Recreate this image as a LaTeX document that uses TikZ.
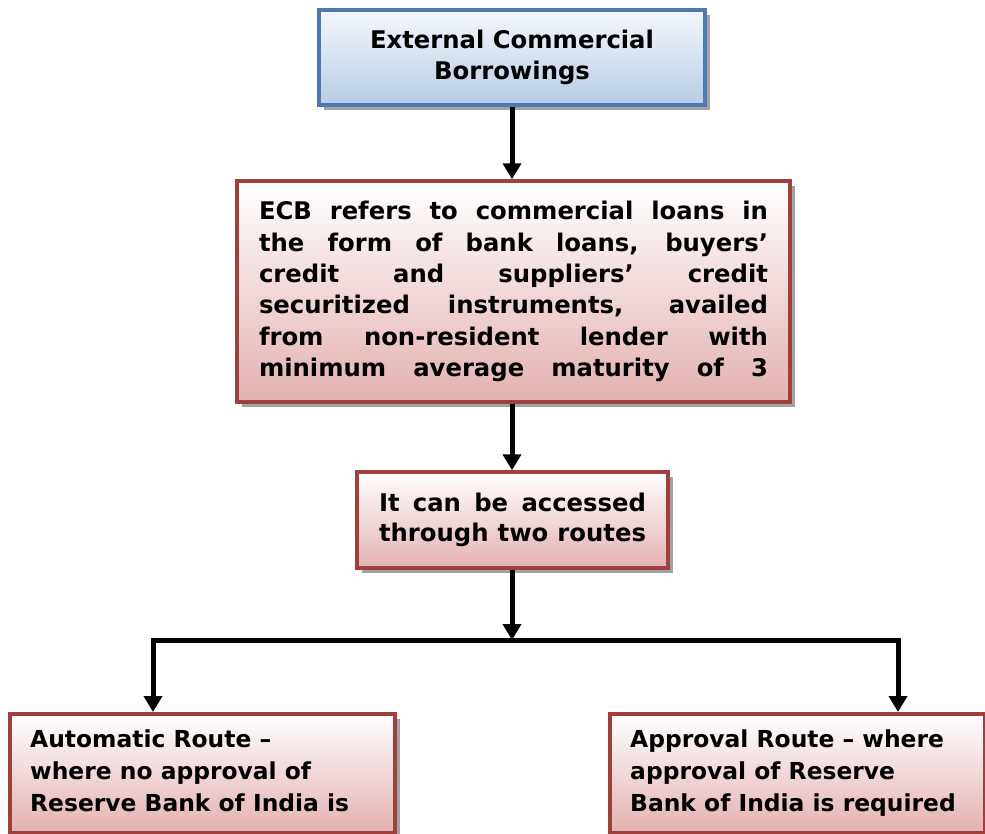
\documentclass[tikz,border=0pt]{standalone}
\usepackage{fontspec}
\setmainfont{DejaVu Sans}
\usetikzlibrary{arrows.meta,shadows}
\definecolor{bluedraw}{HTML}{4F77B0}
\definecolor{bluetop}{HTML}{F4F7FC}
\definecolor{bluebot}{HTML}{B8CCE4}
\definecolor{reddraw}{HTML}{A0403E}
\definecolor{redtop}{HTML}{FFFFFF}
\definecolor{redbot}{HTML}{E3B1B1}
\definecolor{shadowgray}{HTML}{A3A3A3}
\begin{document}
\begin{tikzpicture}[x=1pt,y=-1pt,
  txt/.style={font=\bfseries\fontsize{24.3}{30.5}\selectfont},
  smalltxt/.style={font=\bfseries\fontsize{23.4}{32}\selectfont},
  boxbase/.style={line width=3.5pt, inner sep=0pt, txt,
    drop shadow={shadow xshift=5pt,shadow yshift=-5pt,fill=shadowgray,opacity=1}},
  bluebox/.style={boxbase, draw=bluedraw, top color=bluetop, bottom color=bluebot},
  redbox/.style={boxbase, draw=reddraw, top color=redtop, bottom color=redbot},
  arr/.style={line width=5pt, -{Triangle[width=18pt,length=16pt]}}
]
\useasboundingbox (0,0) rectangle (985,833);
\fill[white] (0,0) rectangle (985,833);
\clip (0,0) rectangle (985,833);

\node[bluebox, minimum width=386pt, minimum height=95pt, align=center] (ecb) at (512,57.5)
  {External Commercial\\Borrowings};

\node[redbox, minimum width=553pt, minimum height=221pt, align=left,
  font=\bfseries\fontsize{24.3}{31.4}\selectfont] (def) at (513.5,291.5)
  {\makebox[509pt][s]{ECB refers to commercial loans in}\\
   \makebox[509pt][s]{the form of bank loans, buyers’}\\
   \makebox[509pt][s]{credit and suppliers’ credit}\\
   \makebox[509pt][s]{securitized instruments, availed}\\
   \makebox[509pt][s]{from non-resident lender with}\\
   \makebox[509pt][s]{minimum average maturity of 3}};

\node[redbox, minimum width=311pt, minimum height=96pt, align=left] (routes) at (512.5,520)
  {\makebox[267pt][s]{It can be accessed}\\\makebox[267pt][s]{through two routes}};

\node[redbox, minimum width=385pt, minimum height=119pt, anchor=north west] (auto) at (8,712) {};
\node[redbox, minimum width=375pt, minimum height=119pt, anchor=north west] (appr) at (608,712) {};

\node[smalltxt, anchor=base west, align=left, inner sep=0pt] (autotxt) at (30,811)
  {Automatic Route –\\where no approval of\\Reserve Bank of India is};
\node[smalltxt, anchor=base west, align=left, inner sep=0pt] (apprtxt) at (630,811)
  {Approval Route – where\\approval of Reserve\\Bank of India is required};

\coordinate (split) at (512,640);
\coordinate (lc) at (153,640);
\coordinate (rc) at (898,640);

\draw[arr] (ecb.south) -- (ecb.south |- def.north);
\draw[arr] (ecb.south |- def.south) -- (ecb.south |- routes.north);
\draw[arr] (ecb.south |- routes.south) -- (split);
\draw[arr] (split) -| (lc |- auto.north);
\draw[arr] (split) -| (rc |- appr.north);
\end{tikzpicture}
\end{document}
